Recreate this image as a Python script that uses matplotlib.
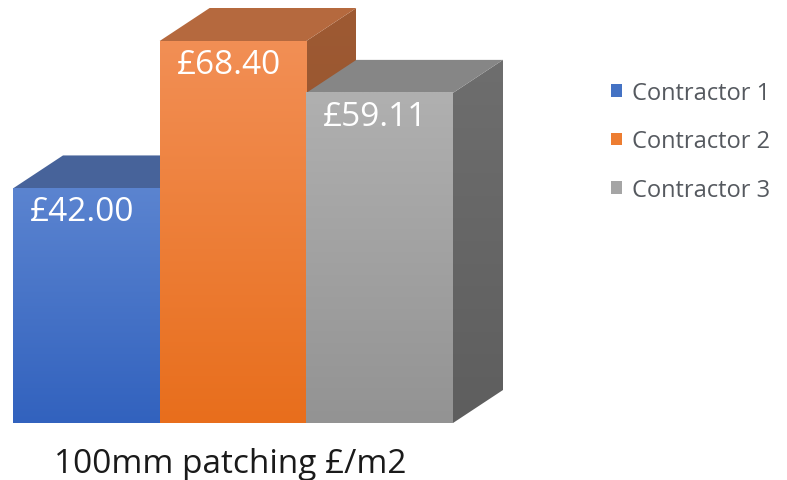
import numpy as np
import matplotlib.pyplot as plt
from matplotlib.colors import LinearSegmentedColormap
from matplotlib.patches import Polygon, Patch

plt.rcParams["font.family"] = ["Open Sans", "DejaVu Sans"]

contractors = ["Contractor 1", "Contractor 2", "Contractor 3"]
rates = [42.00, 68.40, 59.11]
rate_labels = ["£42.00", "£68.40", "£59.11"]
category = "100mm patching £/m2"

# face shading: front gradient (top -> bottom), lid, right side gradient
front_top = ["#5b84d0", "#f28f55", "#b0b0b0"]
front_bottom = ["#3262be", "#e86e1c", "#939393"]
lid = ["#47639a", "#b5693e", "#868686"]
side_top = ["#34528c", "#9e5a33", "#6e6e6e"]
side_bottom = ["#2b4575", "#8f4f2a", "#5e5e5e"]
swatch = ["#4472c4", "#ed7d31", "#a5a5a5"]

W, H = 787, 481
fig = plt.figure(figsize=(W / 100, H / 100), dpi=100)
ax = fig.add_axes([0, 0, 1, 1])

# bars fill x 13..453 px, baseline at 424 px, 68.4 sits at 42 px
px_x = 440 / 3
px_v = (424 - 42) / 68.4
ax.set_xlim(-13 / px_x, (W - 13) / px_x)
ax.set_ylim(-(H - 424) / px_v, 424 / px_v)
ax.axis("off")

dx = 50 / px_x   # depth offset, to the right
dv = 33 / px_v   # depth offset, upwards


def shade(extent, c_top, c_bot, z, clip=None):
    cmap = LinearSegmentedColormap.from_list("face", [c_bot, c_top])
    im = ax.imshow(np.linspace(0, 1, 256).reshape(-1, 1), cmap=cmap,
                   extent=extent, origin="lower", aspect="auto",
                   interpolation="bilinear", zorder=z)
    if clip is not None:
        clip.set_transform(ax.transData)
        im.set_clip_path(clip)
    return im


for i, v in enumerate(rates):
    x0, x1 = i, i + 1
    z = 2 + 3 * i
    side = Polygon([(x1, 0), (x1 + dx, dv), (x1 + dx, v + dv), (x1, v)])
    shade((x1, x1 + dx, 0, v + dv), side_top[i], side_bottom[i], z, clip=side)
    ax.add_patch(Polygon([(x0, v), (x0 + dx, v + dv), (x1 + dx, v + dv), (x1, v)],
                         facecolor=lid[i], edgecolor="none", zorder=z + 1))
    shade((x0, x1, 0, v), front_top[i], front_bottom[i], z + 2)
    ax.text(i + 0.47, v - 32 / px_v, rate_labels[i], color="white",
            fontsize=24, ha="center", va="baseline", zorder=20)

ax.text(1.48, -49 / px_v, category, fontsize=24, color="#1a1a1a",
        ha="center", va="baseline")

handles = [Patch(facecolor=c, edgecolor="none") for c in swatch]
ax.legend(handles, contractors, loc="upper left",
          bbox_to_anchor=(611 / W, 1 - 82 / H), bbox_transform=fig.transFigure,
          frameon=False, fontsize=17, labelcolor="#55595f",
          handlelength=0.45, handleheight=0.45, handletextpad=0.45,
          labelspacing=1.03, borderpad=0, borderaxespad=0)

fig.savefig("out.png", dpi=100)
